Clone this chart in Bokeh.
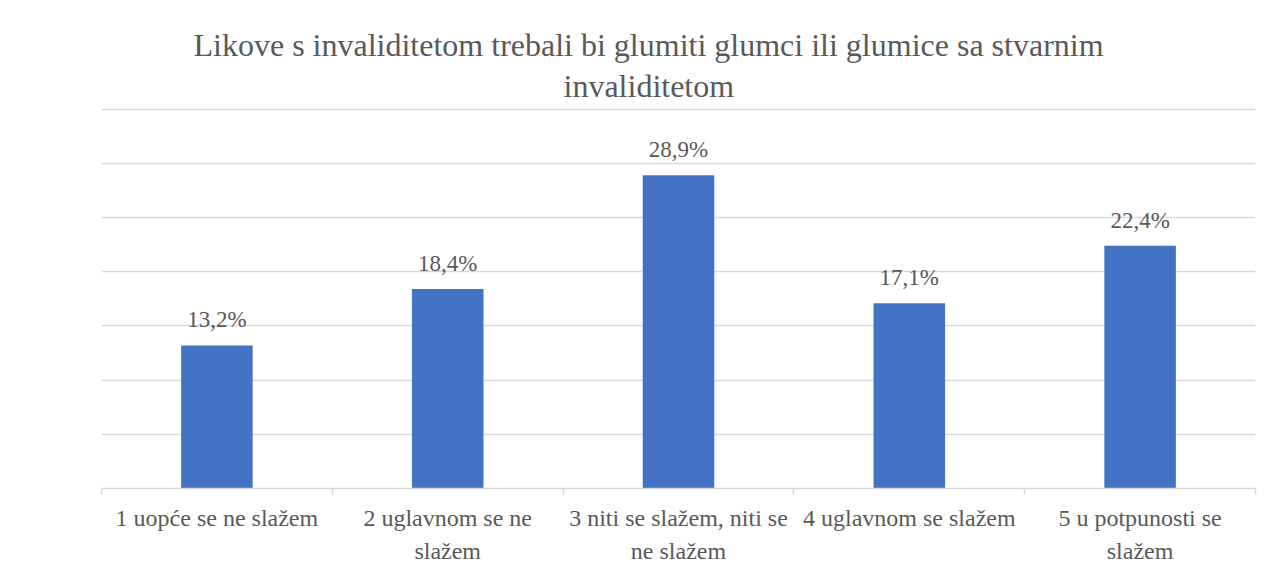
from bokeh.plotting import figure
from bokeh.models import (ColumnDataSource, Range1d, LinearAxis, FixedTicker,
                          LabelSet, Title)
from bokeh.core.properties import value
from bokeh.embed import file_html
from bokeh.resources import INLINE

# ---- data ----
categories = [
    "1 uopće se ne slažem",
    "2 uglavnom se ne\nslažem",
    "3 niti se slažem, niti se\nne slažem",
    "4 uglavnom se slažem",
    "5 u potpunosti se\nslažem",
]
values = [13.2, 18.4, 28.9, 17.1, 22.4]
title_lines = ["Likove s invaliditetom trebali bi glumiti glumci ili glumice sa stvarnim",
               "invaliditetom"]
y_max = 35
y_step = 5

FONT = "Liberation Serif"
TEXT_COLOR = "#595959"
GRID_COLOR = "#D9D9D9"
BAR_COLOR = "#4472C4"

n = len(categories)
centers = [i + 0.5 for i in range(n)]
labels = [f"{v:.1f}".replace(".", ",") + "%" for v in values]
line1 = [c.split("\n")[0] for c in categories]
line2 = [c.split("\n")[1] if "\n" in c else "" for c in categories]

src = ColumnDataSource(dict(x=centers, top=values, label=labels))

p = figure(width=1257, height=566, output_backend="svg", toolbar_location=None,
           x_range=Range1d(0, n), y_range=Range1d(0, y_max + 0.15),
           x_axis_location=None, y_axis_location=None,
           min_border_left=101, min_border_right=2, min_border_top=107,
           min_border_bottom=76, outline_line_color=None,
           background_fill_color="white", border_fill_color="white")
p.title_location = None

p.xgrid.visible = False
p.ygrid.ticker = FixedTicker(ticks=list(range(0, y_max + 1, y_step)))
p.ygrid.grid_line_color = GRID_COLOR
p.ygrid.grid_line_width = 1.5

p.vbar(x="x", top="top", width=0.31, source=src, color=BAR_COLOR, line_color=None)

p.add_layout(LabelSet(x="x", y="top", text="label", source=src,
                      text_align="center", text_baseline="alphabetic",
                      y_offset=18, text_font=value(FONT), text_font_size="23px",
                      text_line_height=1.0, text_color=TEXT_COLOR))

# title, one line per Title (nearest the frame first)
p.add_layout(Title(text=title_lines[1], align="left", offset=462, standoff=7,
                   text_font=FONT, text_font_size="32px", text_font_style="normal",
                   text_color=TEXT_COLOR), "above")
p.add_layout(Title(text=title_lines[0], align="left", offset=92, standoff=0,
                   text_font=FONT, text_font_size="32px", text_font_style="normal",
                   text_color=TEXT_COLOR), "above")

# category axis: first label line, with separator ticks between categories
xaxis1 = LinearAxis(
    ticker=FixedTicker(ticks=centers, minor_ticks=list(range(0, n + 1))),
    major_label_overrides={c: t for c, t in zip(centers, line1)},
    axis_line_color=GRID_COLOR, axis_line_width=1.5,
    major_tick_line_color=None, major_tick_in=0, major_tick_out=0,
    minor_tick_line_color=GRID_COLOR, minor_tick_line_width=1.5,
    minor_tick_in=0, minor_tick_out=6,
    major_label_text_font=FONT, major_label_text_font_size="24px",
    major_label_text_line_height=1.0,
    major_label_text_color=TEXT_COLOR, major_label_standoff=10,
)
p.add_layout(xaxis1, "below")

# second label line
xaxis2 = LinearAxis(
    ticker=FixedTicker(ticks=centers, minor_ticks=[]),
    major_label_overrides={c: t for c, t in zip(centers, line2)},
    axis_line_color=None, major_tick_line_color=None, minor_tick_line_color=None,
    major_tick_in=0, major_tick_out=0, minor_tick_in=0, minor_tick_out=0,
    major_label_text_font=FONT, major_label_text_font_size="24px",
    major_label_text_line_height=1.0,
    major_label_text_color=TEXT_COLOR, major_label_standoff=4,
)
p.add_layout(xaxis2, "below")

open("out.html", "w").write(file_html(p, INLINE))
